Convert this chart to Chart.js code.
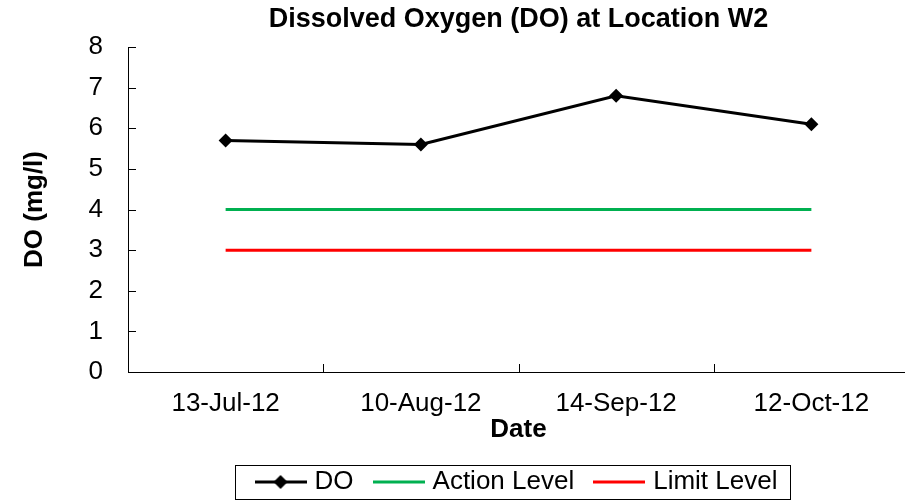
<!DOCTYPE html>
<html><head><meta charset="utf-8">
<script src="https://cdn.jsdelivr.net/npm/chart.js@4"></script>
<style>html,body{margin:0;padding:0;overflow:hidden;background:#fff}</style>
</head><body>
<canvas id="c" width="916" height="503"></canvas>
<script>
const categories = ['13-Jul-12','10-Aug-12','14-Sep-12','12-Oct-12'];
const doValues = [5.7, 5.6, 6.8, 6.1];
const actionLevel = [4, 4, 4, 4];
const limitLevel = [3, 3, 3, 3];
const seriesNames = ['DO', 'Action Level', 'Limit Level'];
const seriesColors = ['#000000', '#00B050', '#FF0000'];
const yMin = 0, yMax = 8, yStep = 1;

const FONT = "'Liberation Sans', Arial, sans-serif";

function legendIcon(color, diamond) {
  const c = document.createElement('canvas');
  c.width = 52; c.height = 16;
  const g = c.getContext('2d');
  g.strokeStyle = color; g.lineWidth = 3;
  g.beginPath(); g.moveTo(0, 8); g.lineTo(52, 8); g.stroke();
  if (diamond) {
    g.fillStyle = color;
    g.beginPath(); g.moveTo(26, 1); g.lineTo(33, 8); g.lineTo(26, 15); g.lineTo(19, 8); g.closePath(); g.fill();
  }
  return c;
}
const icons = [legendIcon(seriesColors[0], true), legendIcon(seriesColors[1], false), legendIcon(seriesColors[2], false)];

const decor = {
  id: 'decor',
  afterDraw(chart) {
    const {ctx, chartArea, scales: {x, y}} = chart;
    ctx.save();
    ctx.strokeStyle = '#000'; ctx.lineWidth = 1;
    ctx.beginPath();
    y.ticks.forEach((t, i) => {
      const py = Math.round(y.getPixelForTick(i)) + 0.5;
      ctx.moveTo(chartArea.left, py); ctx.lineTo(chartArea.left + 8, py);
    });
    for (let i = 1; i < x.ticks.length; i++) {
      const px = Math.round((x.getPixelForTick(i - 1) + x.getPixelForTick(i)) / 2) + 0.5;
      ctx.moveTo(px, chartArea.bottom); ctx.lineTo(px, chartArea.bottom - 8);
    }
    ctx.stroke();
    const hb = chart.legend.legendHitBoxes;
    if (hb && hb.length) {
      let l = Infinity, r = -Infinity, cy = 0;
      hb.forEach(b => { l = Math.min(l, b.left); r = Math.max(r, b.left + b.width); cy = b.top + b.height / 2; });
      ctx.strokeRect(Math.round(l - 25) + 0.5, Math.round(cy - 17) + 0.5, Math.round(r - l + 37), 34);
    }
    ctx.restore();
  }
};

new Chart(document.getElementById('c'), {
  type: 'line',
  data: {
    labels: categories,
    datasets: [
      { label: seriesNames[0], data: doValues, borderColor: seriesColors[0], backgroundColor: seriesColors[0],
        borderWidth: 3, pointStyle: 'rectRot', pointRadius: 7, pointBorderWidth: 0, tension: 0 },
      { label: seriesNames[1], data: actionLevel, borderColor: seriesColors[1], borderWidth: 3, pointRadius: 0 },
      { label: seriesNames[2], data: limitLevel, borderColor: seriesColors[2], borderWidth: 3, pointRadius: 0 }
    ]
  },
  options: {
    responsive: false,
    animation: false,
    layout: { padding: { left: 0, right: 1, top: 0, bottom: 0 } },
    plugins: {
      tooltip: { enabled: false },
      title: {
        display: true, text: 'Dissolved Oxygen (DO) at Location W2', fullSize: false,
        color: '#000', font: { family: FONT, size: 27, weight: 'bold' },
        padding: { top: 3, bottom: 11.6 }
      },
      legend: {
        position: 'bottom', fullSize: false, maxHeight: 58,
        labels: {
          usePointStyle: true, pointStyleWidth: 42, padding: 24, color: '#000',
          font: { family: FONT, size: 26 },
          generateLabels: () => seriesNames.map((n, i) => ({
            text: n, pointStyle: icons[i], fillStyle: 'transparent', strokeStyle: 'transparent',
            lineWidth: 0, datasetIndex: i, fontColor: '#000', hidden: false
          }))
        }
      }
    },
    scales: {
      x: {
        offset: true,
        grid: { offset: true, drawOnChartArea: false, drawTicks: false },
        border: { display: true, color: '#000', width: 1 },
        ticks: { color: '#000', font: { family: FONT, size: 26 }, padding: 16, maxRotation: 0 },
        title: { display: true, text: 'Date', color: '#000', font: { family: FONT, size: 26, weight: 'bold' }, padding: { top: 0, bottom: 0 } },
        afterFit(scale) { scale.height = 73; }
      },
      y: {
        min: yMin, max: yMax,
        grid: { drawOnChartArea: false, drawTicks: false },
        border: { display: true, color: '#000', width: 1 },
        ticks: { stepSize: yStep, color: '#000', font: { family: FONT, size: 26 }, padding: 25 },
        title: { display: true, text: 'DO (mg/l)', color: '#000', font: { family: FONT, size: 26, weight: 'bold' }, padding: { top: 19, bottom: 0 } },
        afterFit(scale) { scale.width = 128; }
      }
    }
  },
  plugins: [decor]
});
</script>
</body></html>
